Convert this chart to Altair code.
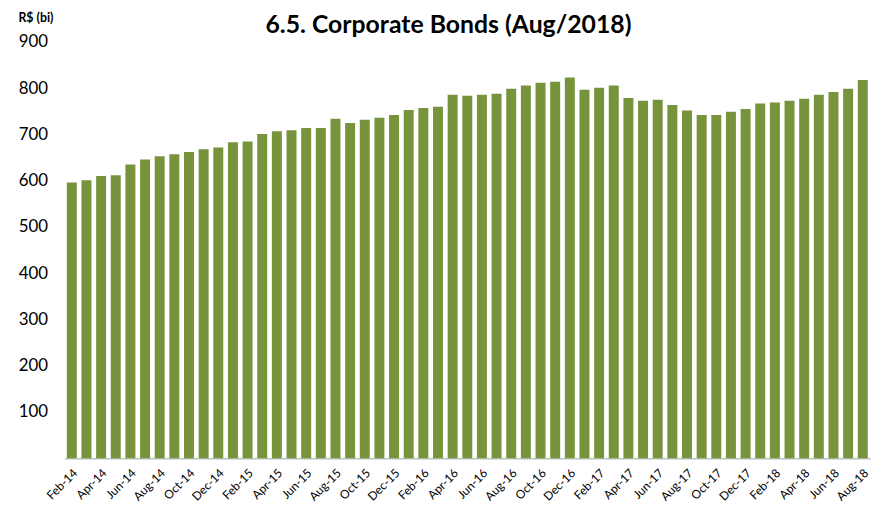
import altair as alt
import pandas as pd

months = []
for y in range(14, 19):
    for m in ["Jan", "Feb", "Mar", "Apr", "May", "Jun", "Jul", "Aug", "Sep", "Oct", "Nov", "Dec"]:
        months.append(f"{m}-{y}")
start = months.index("Feb-14")
end = months.index("Aug-18")
months = months[start:end + 1]

values = [596, 601, 610, 612, 635, 646, 653, 657, 662, 668, 672, 683, 685,
          701, 707, 709, 714, 714, 734, 725, 732, 736, 742, 753, 757, 760,
          786, 784, 786, 788, 799, 806, 812, 814, 823, 797, 801, 806, 779,
          773, 775, 764, 752, 742, 742, 749, 755, 767, 769, 773, 777, 786,
          792, 799, 818]

tick_labels = months[::2]
y_ticks = [100, 200, 300, 400, 500, 600, 700, 800, 900]

df = pd.DataFrame({"month": months, "value": values})

font = "Lato"

chart = alt.Chart(df).mark_bar(color="#77933C").encode(
    x=alt.X("month:N", sort=months,
            scale=alt.Scale(paddingInner=0.32, paddingOuter=0.16),
            axis=alt.Axis(values=tick_labels, labelAngle=-45, labelFontSize=12,
                          labelFont=font, labelColor="#000000", ticks=False,
                          domainColor="#BFBFBF", domainWidth=1.5, labelPadding=9,
                          title=None)),
    y=alt.Y("value:Q", scale=alt.Scale(domain=[0, 900], nice=False),
            axis=alt.Axis(values=y_ticks, grid=False, ticks=False, domain=False,
                          labelFontSize=17, labelFont=font, labelColor="#000000",
                          labelPadding=17, title="R$ (bi)", titleAngle=0,
                          titleAlign="left", titleBaseline="middle",
                          titleX=-47, titleY=-25, titleFont=font,
                          titleFontSize=12.5, titleFontWeight="bold",
                          titleColor="#000000")),
).properties(
    width=813,
    height=420,
    title=alt.TitleParams("6.5. Corporate Bonds (Aug/2018)", font=font,
                          fontSize=25, fontWeight="bold", color="#000000",
                          anchor="middle", dx=-19, dy=33, offset=6),
    autosize=alt.AutoSizeParams(type="none"),
    padding={"left": 57, "top": 32, "right": 10, "bottom": 51},
).configure_view(stroke=None)

chart.save("out.html", embed_options={"renderer": "svg", "actions": False})
